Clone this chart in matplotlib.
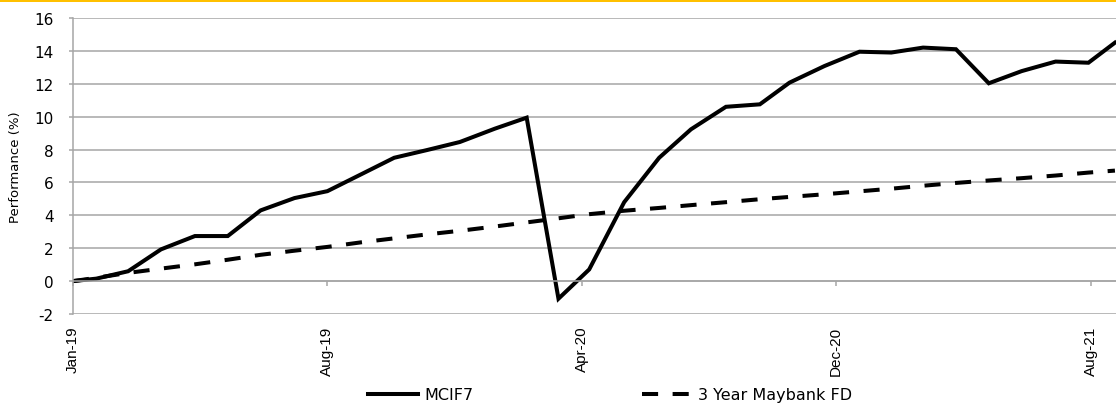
import matplotlib
matplotlib.use("Agg")
import datetime as dt
import pandas as pd
import matplotlib.pyplot as plt
import matplotlib.dates as mdates
from matplotlib.lines import Line2D
from matplotlib.patches import Rectangle

plt.rcParams["axes.unicode_minus"] = False

# data
dates = [
    "2019-01-01", "2019-01-23", "2019-02-22", "2019-03-25", "2019-04-26",
    "2019-05-27", "2019-06-27", "2019-07-29", "2019-08-29", "2019-09-30",
    "2019-10-31", "2019-12-01", "2020-01-01", "2020-02-03", "2020-03-04",
    "2020-04-03", "2020-05-02", "2020-06-04", "2020-07-07", "2020-08-06",
    "2020-09-08", "2020-10-10", "2020-11-07", "2020-12-10", "2021-01-12",
    "2021-02-11", "2021-03-13", "2021-04-13", "2021-05-14", "2021-06-14",
    "2021-07-16", "2021-08-16", "2021-09-10",
]
mcif7 = [
    0.0, 0.15, 0.6, 1.93, 2.74, 2.74, 4.3, 5.05, 5.47, 6.5,
    7.5, 7.97, 8.46, 9.27, 9.94, -1.07, 0.71, 4.8, 7.5, 9.23,
    10.6, 10.75, 12.07, 13.08, 13.95, 13.9, 14.2, 14.1, 12.03, 12.77,
    13.35, 13.28, 14.5,
]
fd_3yr = [
    0.0, 0.2, 0.5, 0.76, 1.02, 1.3, 1.6, 1.85, 2.08, 2.36,
    2.6, 2.84, 3.06, 3.32, 3.57, 3.82, 4.07, 4.28, 4.45, 4.62,
    4.8, 4.98, 5.12, 5.28, 5.46, 5.62, 5.8, 5.97, 6.12, 6.26,
    6.42, 6.6, 6.72,
]
series_names = ["MCIF7", "3 Year Maybank FD"]
yticks = list(range(-2, 17, 2))

x = pd.to_datetime(dates)
start = dt.datetime(2019, 1, 1)
tick_dates = [start + dt.timedelta(days=240 * k) for k in range(5)]
end = start + dt.timedelta(days=984)

grey = "#a6a6a6"

fig = plt.figure(figsize=(11.16, 4.06), dpi=100)
ax = fig.add_axes([73 / 1116, 1 - 315 / 406, 1043 / 1116, 296 / 406])

# yellow rule across the top
fig.add_artist(Rectangle((0, 1 - 2.5 / 406), 1, 2.5 / 406,
                         transform=fig.transFigure, color="#ffc000", lw=0))

ax.plot(x, mcif7, color="black", lw=2.9, solid_joinstyle="miter")
ax.plot(x, fd_3yr, color="black", lw=2.9, dashes=(4, 3.6),
        dash_capstyle="butt")

ax.set_xlim(start, end)
ax.set_ylim(-2, 16)
ax.set_yticks(yticks)
ax.set_xticks(tick_dates)
ax.xaxis.set_major_formatter(mdates.DateFormatter("%b-%y"))

ax.set_axisbelow(True)
ax.yaxis.grid(True, color=grey, lw=1.1)
for s in ["top", "right"]:
    ax.spines[s].set_visible(False)
ax.spines["bottom"].set_position(("data", 0))
ax.spines["bottom"].set_color(grey)
ax.spines["bottom"].set_linewidth(1.1)
ax.spines["left"].set_color(grey)
ax.spines["left"].set_linewidth(1.1)

ax.tick_params(axis="y", direction="out", length=3.2, width=1.1, color=grey,
               pad=10.8, labelsize=11)
ax.tick_params(axis="x", direction="out", length=3.6, width=1.1, color=grey,
               pad=28.3, labelrotation=90)
for lbl in ax.get_xticklabels():
    lbl.set_fontfamily("Liberation Sans")
    lbl.set_fontsize(11)

ax.set_ylabel("Performance (%)", fontsize=9.5)
ax.yaxis.set_label_coords((22 - 73) / 1043, 0.5)

handles = [
    Line2D([], [], color="black", lw=2.9),
    Line2D([], [], color="black", lw=2.9, dashes=(4, 3.6), dash_capstyle="butt"),
]
fig.legend(handles, series_names, loc="center left",
           bbox_to_anchor=(368 / 1116, 1 - 396 / 406), ncol=2, frameon=False,
           fontsize=11.5, handlelength=3.1, handletextpad=0.4,
           columnspacing=10.6, borderpad=0, borderaxespad=0)

fig.savefig("out.png", dpi=100)
